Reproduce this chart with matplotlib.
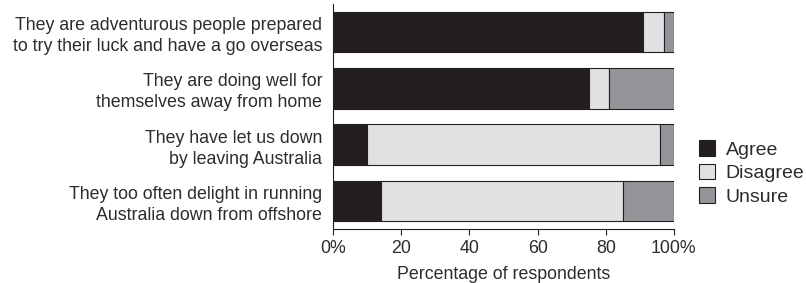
import matplotlib
matplotlib.use("Agg")
import matplotlib.pyplot as plt
import numpy as np

categories = [
    "They are adventurous people prepared\nto try their luck and have a go overseas",
    "They are doing well for\nthemselves away from home",
    "They have let us down\nby leaving Australia",
    "They too often delight in running\nAustralia down from offshore",
]
agree = [91, 75, 10, 14]
disagree = [6, 6, 86, 71]
unsure = [3, 19, 4, 15]
series_names = ["Agree", "Disagree", "Unsure"]
xticks = [0, 20, 40, 60, 80, 100]
xtick_labels = ["0%", "20", "40", "60", "80", "100%"]

EDGE = "#231f20"
TEXT = "#2e2b2c"
colors = ["#231f20", "#e0e1e3", "#939598"]

plt.rcParams["font.family"] = ["Liberation Sans", "DejaVu Sans"]
FS = 12.75

fig = plt.figure(figsize=(8.06, 2.83), dpi=100)
ax = fig.add_axes([0.4135, 0.19, 0.4225, 0.796])

y = np.arange(len(categories))
left = np.zeros(len(categories))
for vals, name, col in zip([agree, disagree, unsure], series_names, colors):
    ax.barh(y, vals, left=left, height=0.72, color=col, edgecolor=EDGE,
            linewidth=0.8, label=name)
    left += np.array(vals)

ax.set_xlim(0, 100)
ax.set_ylim(3.5, -0.5)
ax.set_yticks(y)
ax.set_yticklabels(categories, fontsize=FS, color=TEXT, ha="right",
                   linespacing=1.3)
ax.set_xticks(xticks)
ax.set_xticklabels(xtick_labels, fontsize=FS, color=TEXT)
ax.tick_params(axis="y", length=0, pad=8)
ax.tick_params(axis="x", length=4, width=0.8, color=EDGE, pad=4)
ax.set_xlabel("Percentage of respondents", fontsize=FS, color=TEXT,
              labelpad=6)

for s in ["top", "right"]:
    ax.spines[s].set_visible(False)
for s in ["left", "bottom"]:
    ax.spines[s].set_color(EDGE)
    ax.spines[s].set_linewidth(0.8)

leg = ax.legend(loc="center left", bbox_to_anchor=(1.05, 0.25), frameon=False,
                fontsize=14, handlelength=0.85, handleheight=0.85,
                handletextpad=0.55, labelspacing=0.25, borderaxespad=0)
for t in leg.get_texts():
    t.set_color(TEXT)

fig.savefig("out.png", dpi=100)
